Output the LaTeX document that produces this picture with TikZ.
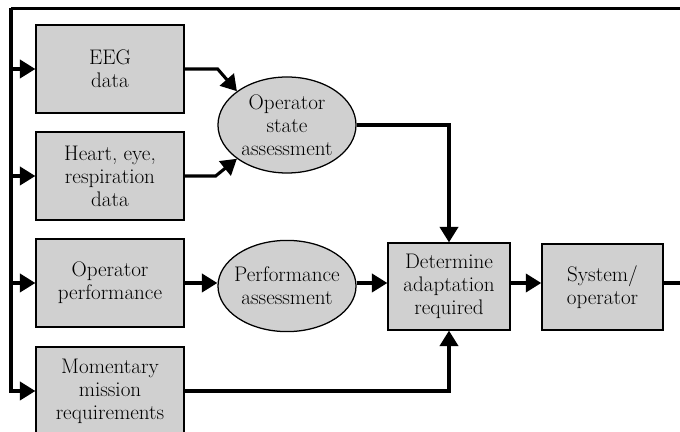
\documentclass[tikz,border=0pt]{standalone}
\usepackage{tikz}
\usetikzlibrary{
  shapes.geometric, arrows.meta, positioning, calc
}
\definecolor{boxgray}{RGB}{208,208,208}
\tikzstyle{stage} = [
  rectangle, draw=black, fill=boxgray, line width=0.9pt,
  minimum width=3.7cm, minimum height=2.2cm, inner sep=0pt,
  align=center, font=\fontsize{15}{16.3}\selectfont
]
\tikzstyle{assess} = [
  ellipse, draw=black, fill=boxgray, line width=0.9pt,
  minimum width=3.45cm, minimum height=2.4cm, inner ysep=0pt,
  inner xsep=-2pt, align=center, font=\fontsize{15}{16.3}\selectfont
]
\tikzstyle{arrow} = [-{Triangle[length=11pt,width=13pt]}, line width=2.2pt]
\tikzstyle{feedback} = [line width=2.2pt]

\begin{document}
\begin{tikzpicture}[x=0.025cm, y=-0.025cm]

  \useasboundingbox (0,0) rectangle (680,432);

  % Input measures
  \node[stage] (eeg) at (110,69) {EEG\\data};
  \node[stage] (heart) at (110,176) {Heart, eye,\\respiration\\data};
  \node[stage] (opperf) at (110,283) {Operator\\performance};
  \node[stage] (mission) at (110,391) {Momentary\\mission\\requirements};

  % Assessments
  \node[assess] (state) at (287,125) {Operator\\state\\assessment};
  \node[assess, minimum height=2.28cm, inner xsep=-8pt] (perfass) at (287,286) {Performance\\assessment};

  % Adaptation and system
  \node[stage, minimum width=3.05cm, minimum height=2.175cm] (adapt) at (449,286.5) {Determine\\adaptation\\required};
  \node[stage, minimum width=3.03cm, minimum height=2.15cm] (system) at (602.5,287) {System/\\operator};

  % Feedback loop corners
  \coordinate (sysout) at (692,283);
  \coordinate (topright) at (692,8.5);
  \coordinate (topleft) at (11,8.5);

  % Arrows
  \draw[arrow] (eeg.east) -- ++(33,0) -- (state.146);
  \draw[arrow] (heart.east) -- ++(31,0) -- (state.214);
  \draw[arrow] (state.east) -| (adapt.north);
  \draw[arrow] (mission.east) -| (adapt.south);
  \draw[arrow] (opperf.east |- 0,283) -- (perfass.west |- 0,283);
  \draw[arrow] (perfass.east |- 0,283) -- (adapt.west |- 0,283);
  \draw[arrow] (adapt.east |- 0,283) -- (system.west |- 0,283);

  % Feedback loop
  \draw[feedback] (system.east |- sysout) -- (sysout) -- (topright) -- (topleft);
  \draw[arrow] (topleft) |- (mission.west);
  \draw[arrow] (topleft |- eeg.west) -- (eeg.west);
  \draw[arrow] (topleft |- heart.west) -- (heart.west);
  \draw[arrow] (topleft |- opperf.west) -- (opperf.west);

\end{tikzpicture}
\end{document}
